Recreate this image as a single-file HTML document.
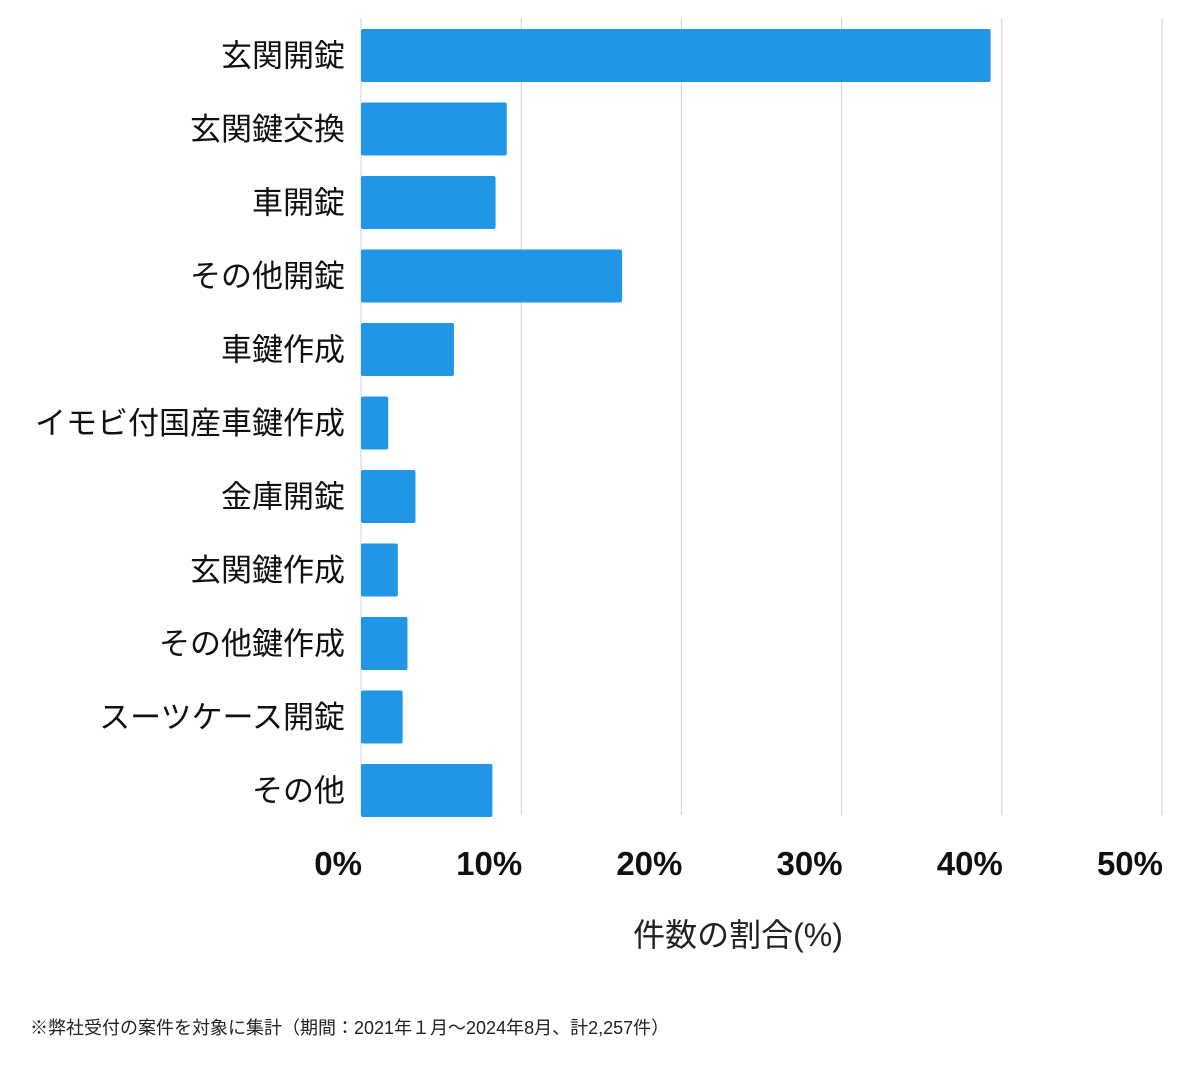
<!DOCTYPE html>
<html><head><meta charset="utf-8"><style>
body{margin:0;background:#fff;width:1200px;height:1069px;overflow:hidden;font-family:"Liberation Sans","Noto Sans CJK JP",sans-serif}
</style></head><body>
<svg id="chart" width="1200" height="1069" xmlns="http://www.w3.org/2000/svg" style="font-family:'Liberation Sans','Noto Sans CJK JP',sans-serif">
<g id="grid"></g><g id="bars"></g><g id="ylabels"></g><g id="xticks"></g>
<text x="738" y="946" font-size="32" text-anchor="middle" fill="#222">件数の割合(%)</text>
<text x="30" y="1034" font-size="18" fill="#222">※弊社受付の案件を対象に集計（期間：2021年１月～2024年8月、計2,257件）</text>
</svg>
<script>
const categories=["玄関開錠","玄関鍵交換","車開錠","その他開錠","車鍵作成","イモビ付国産車鍵作成","金庫開錠","玄関鍵作成","その他鍵作成","スーツケース開錠","その他"];
const values=[39.3,9.1,8.4,16.3,5.8,1.7,3.4,2.3,2.9,2.6,8.2];
const ticks=[0,10,20,30,40,50];
const tickLabels=["0%","10%","20%","30%","40%","50%"];
const ns="http://www.w3.org/2000/svg";
const x0=361,x1=1162,xmax=50,top0=29,pitch=73.5,bh=53;
const xs=v=>x0+(x1-x0)*v/xmax;
function mk(t,a,p){const e=document.createElementNS(ns,t);for(const k in a)e.setAttribute(k,a[k]);document.getElementById(p).appendChild(e);return e;}
ticks.forEach((t,i)=>{
 const l=mk("line",{x1:xs(t),x2:xs(t),y1:18,y2:815,stroke:"#d0d0d0","stroke-width":1},"grid");
 
 
 const tx=mk("text",{x:xs(t)+1,y:875,"font-size":33,"font-weight":"bold","text-anchor":"end",fill:"#111"},"xticks");
 tx.textContent=tickLabels[i];
 
 
});
categories.forEach((c,i)=>{
 const y=top0+i*pitch;
 const r=mk("rect",{x:x0,y:y,width:Math.max(0,xs(values[i])-x0),height:bh,rx:2,fill:"#2196e6"},"bars");
 
 
 const t=mk("text",{x:345,y:y+bh/2+11,"font-size":31,"text-anchor":"end",fill:"#111"},"ylabels");
 t.textContent=c;
 
 
});
</script>
</body></html>
